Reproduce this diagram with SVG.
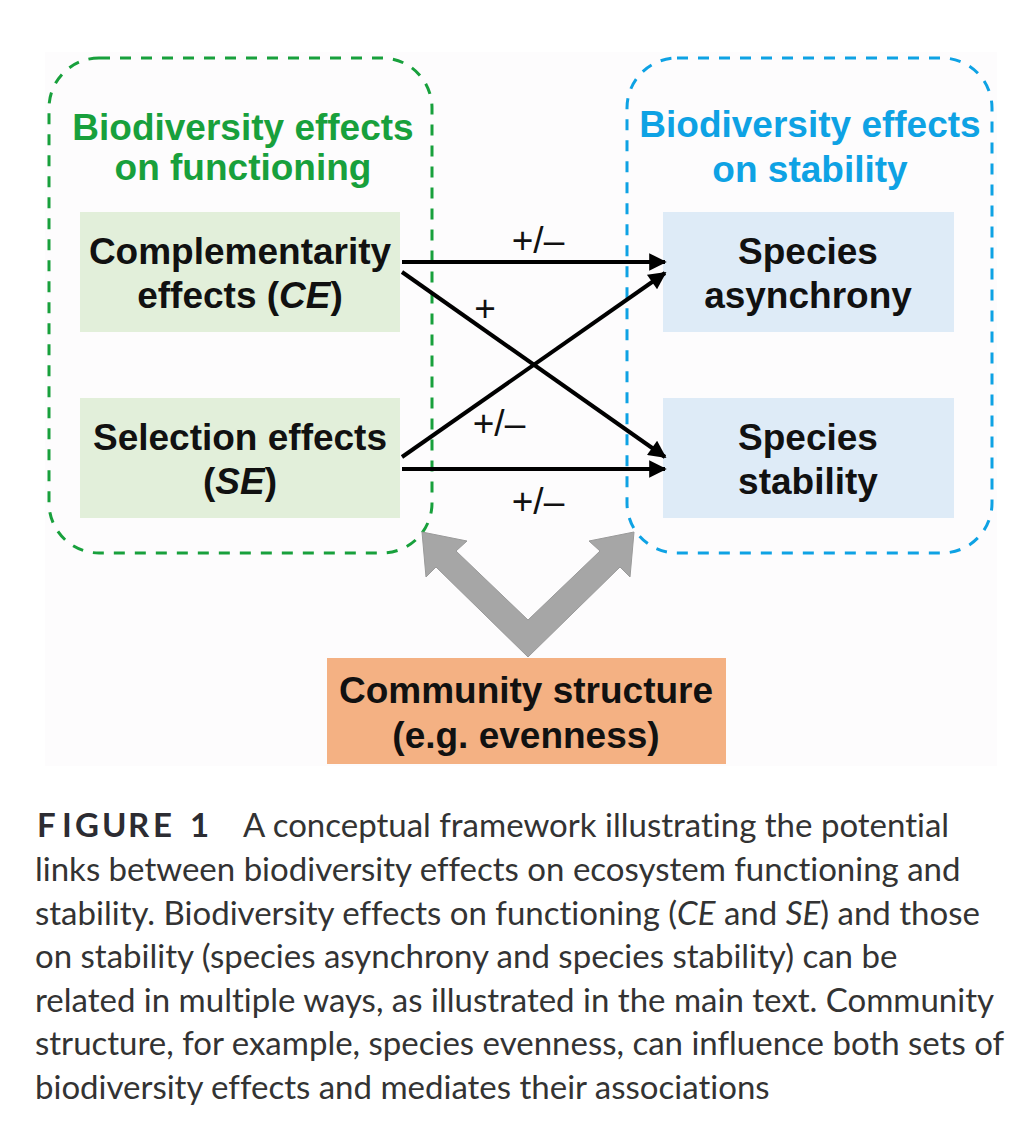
<svg xmlns="http://www.w3.org/2000/svg" width="1028" height="1142" viewBox="0 0 1028 1142">
<defs>
<style>
.t{font-family:"Liberation Sans",Arial,sans-serif;font-weight:bold;font-size:37px;text-anchor:middle;fill:#111}
.g{fill:#18a03c}
.b{fill:#0ea2e4}
.lbl{font-family:"Liberation Sans",Arial,sans-serif;font-size:37px;text-anchor:middle;fill:#111}
.cap{font-family:Lato,"Open Sans",sans-serif;font-size:33px;fill:#333;font-variant-ligatures:none}
.conn{stroke:#000;stroke-width:4;fill:none;marker-end:url(#ah)}
</style>
<marker id="ah" viewBox="0 0 10 10" refX="9" refY="5" markerWidth="4.8" markerHeight="4.4" orient="auto" markerUnits="strokeWidth">
<path d="M0,0 L10,5 L0,10 z" fill="#000"/>
</marker>
</defs>
<rect x="0" y="0" width="1028" height="1142" fill="#ffffff"/>
<rect x="45" y="52" width="952" height="714" fill="#fdfcfd"/>

<g id="group-functioning">
<rect x="49" y="58" width="383" height="495" rx="50" ry="50" fill="none" stroke="#18a03c" stroke-width="3" stroke-dasharray="11,10"/>
<text class="t g" x="243" y="140">Biodiversity effects</text>
<text class="t g" x="243" y="180">on functioning</text>
</g>
<g id="group-stability">
<rect x="627" y="58" width="365" height="495" rx="50" ry="50" fill="none" stroke="#0ea2e4" stroke-width="3" stroke-dasharray="11,10"/>
<text class="t b" x="810" y="137">Biodiversity effects</text>
<text class="t b" x="810" y="182">on stability</text>
</g>

<g id="node-ce">
<rect x="80" y="212" width="320" height="120" fill="#e2efda"/>
<text class="t" x="240" y="264">Complementarity</text>
<text class="t" x="240" y="308">effects (<tspan font-style="italic">CE</tspan>)</text>
</g>
<g id="node-se">
<rect x="80" y="398" width="320" height="120" fill="#e2efda"/>
<text class="t" x="240" y="450">Selection effects</text>
<text class="t" x="240" y="494">(<tspan font-style="italic">SE</tspan>)</text>
</g>
<g id="node-asynchrony">
<rect x="663" y="212" width="291" height="120" fill="#deebf7"/>
<text class="t" x="808" y="264">Species</text>
<text class="t" x="808" y="308">asynchrony</text>
</g>
<g id="node-stability">
<rect x="663" y="398" width="291" height="120" fill="#deebf7"/>
<text class="t" x="808" y="450">Species</text>
<text class="t" x="808" y="494">stability</text>
</g>
<g id="node-community">
<rect x="327" y="658" width="399" height="106" fill="#f4b183"/>
<text class="t" x="526" y="703">Community structure</text>
<text class="t" x="526" y="748">(e.g. evenness)</text>
</g>

<g id="connectors">
<line class="conn" x1="402" y1="262" x2="665" y2="262"/>
<line class="conn" x1="402" y1="272" x2="665" y2="457"/>
<line class="conn" x1="402" y1="457" x2="665" y2="273"/>
<line class="conn" x1="402" y1="469" x2="665" y2="469"/>
<text class="lbl" x="538" y="253">+/–</text>
<text class="lbl" x="485" y="321">+</text>
<text class="lbl" x="499" y="436">+/–</text>
<text class="lbl" x="538" y="514">+/–</text>
<polygon points="422,532 467,541 456,551 528,620 600,551 589,541 634,532 630,577 620,567 528,657 436,567 426,577" fill="#a6a6a6" stroke="#9a9a9a" stroke-width="1"/>
</g>

<g id="caption">
<text class="cap" x="37" y="837"><tspan font-weight="bold" fill="#2c2c32" x="37 62 75 102 128 153 175 190">FIGURE 1</tspan><tspan x="243">A conceptual framework illustrating the potential</tspan></text>
<text class="cap" x="35" y="881">links between biodiversity effects on ecosystem functioning and</text>
<text class="cap" x="35" y="925">stability. Biodiversity effects on functioning (<tspan font-style="italic">CE</tspan> and <tspan font-style="italic">SE</tspan>) and those</text>
<text class="cap" x="35" y="968">on stability (species asynchrony and species stability) can be</text>
<text class="cap" x="35" y="1012">related in multiple ways, as illustrated in the main text. Community</text>
<text class="cap" x="35" y="1055">structure, for example, species evenness, can influence both sets of</text>
<text class="cap" x="35" y="1099">biodiversity effects and mediates their associations</text>
</g>
</svg>
